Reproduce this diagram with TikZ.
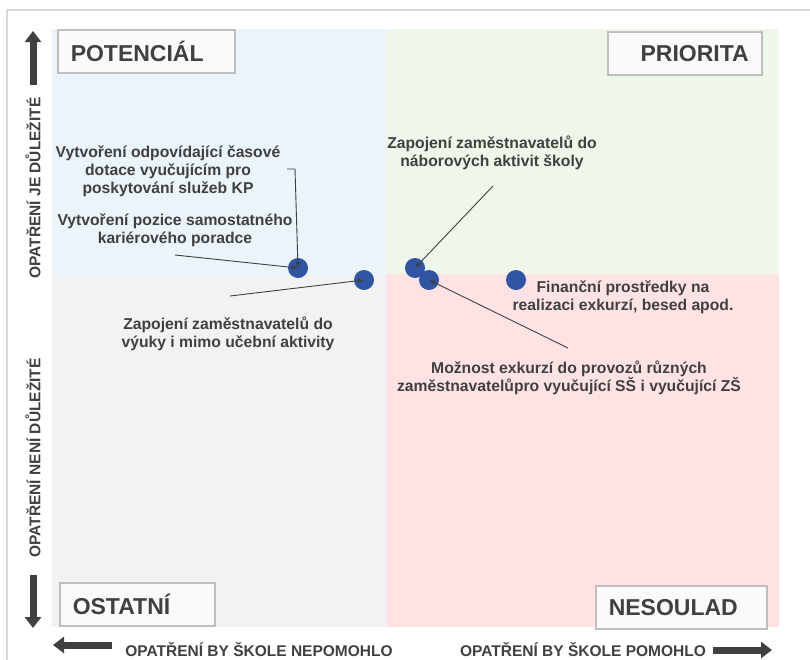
\documentclass[tikz,border=0pt]{standalone}
\usepackage{fontspec}
\setmainfont{Liberation Sans}
\usepackage{tikz}
\usetikzlibrary{arrows.meta,calc,backgrounds}
\usetikzlibrary{positioning}
\definecolor{inkgray}{HTML}{404040}
\definecolor{boxgray}{HTML}{BFBFBF}
\definecolor{dotblue}{HTML}{2F55A4}
\definecolor{quadblue}{HTML}{EBF3FB}
\definecolor{quadgreen}{HTML}{EFF6EA}
\definecolor{quadgray}{HTML}{F2F2F2}
\definecolor{quadpink}{HTML}{FFE3E4}
\tikzstyle{matrixpic}=[
  x=1pt,y=-1pt,font=\bfseries\fontsize{15.7}{18}\selectfont,text=inkgray
]
\tikzstyle{titlebox}=[
  draw=boxgray,line width=1.5pt,fill=white!98!black,inner xsep=13pt,
  minimum height=43pt,anchor=north west,font=\bfseries\fontsize{23}{26}\selectfont
]
\tikzstyle{item}=[
  circle,fill=dotblue,inner sep=0pt,minimum size=20pt
]
\tikzstyle{label}=[
  align=center,inner sep=0pt
]
\tikzstyle{axislabel}=[
  inner sep=0pt,font=\bfseries\fontsize{15.5}{17}\selectfont
]
\tikzstyle{bigarrow}=[
  draw=inkgray,line width=7pt,-{Triangle[width=16pt,length=11pt]}
]
\tikzstyle{lead}=[
  draw=inkgray,line width=0.9pt,-{Latex[length=6pt,width=5pt]}
]

\begin{document}
\begin{tikzpicture}[matrixpic]
  \useasboundingbox (0,0) rectangle (810,659);
  \fill[white] (0,0) rectangle (810,659);
  \draw[black!15,line width=1.2pt] (7,665) -- (7,10) -- (815,10);
  \fill[quadblue] (52,29) rectangle (386,274);
  \fill[quadgreen] (386,29) rectangle (779,274);
  \fill[quadgray] (52,274) rectangle (386,627);
  \fill[quadpink] (386,274) rectangle (779,627);

  \node (pot) at (57,29) [titlebox,text width=151pt,align=left] {POTENCIÁL};
  \node (pri) at (607,31) [titlebox,text width=128pt,align=right] {PRIORITA};
  \node (ost) at (59,582) [titlebox,text width=129pt,align=left] {OSTATNÍ};
  \node (nes) at (595,585) [titlebox,text width=145pt,align=left] {NESOULAD};

  \node (d1) at (298,268) [item] {};
  \node (d2) at (364,280) [item] {};
  \node (d3) at (415,268) [item] {};
  \node (d4) at (429,280) [item] {};
  \node (d5) at (516,280) [item] {};

  \node (l1) at (168,171) [label] {Vytvoření odpovídající časové\\dotace vyučujícím pro\\poskytování služeb KP};
  \node (l2) at (175,230) [label] {Vytvoření pozice samostatného\\kariérového poradce};
  \node (l3) at (228,334) [label] {Zapojení zaměstnavatelů do\\výuky i mimo učební aktivity};
  \node (l4) at (492,153) [label] {Zapojení zaměstnavatelů do\\náborových aktivit školy};
  \node (l5) at (623,297) [label] {Finanční prostředky na\\realizaci exkurzí, besed apod.};
  \node (l6) at (569,378) [label] {Možnost exkurzí do provozů různých\\zaměstnavatelůpro vyučující SŠ i vyučující ZŠ};

  \coordinate (k1) at (287,169);
  \coordinate (k2) at (175,255);
  \coordinate (k3) at (230,296);
  \coordinate (k4) at (493,186);
  \coordinate (k6) at (568,348);
  \draw[lead] (k1) -- ++(8,0) -- (d1.center);
  \draw[lead] (k2) -- (d1.center);
  \draw[lead] (k3) -- (d2.center);
  \draw[lead] (k4) -- (d3.center);
  \draw[lead] (k6) -- (d4.center);

  \node (yhi) at (33,188) [axislabel,rotate=90] {OPATŘENÍ JE DŮLEŽITÉ};
  \node (ylo) at (33,458) [axislabel,rotate=90] {OPATŘENÍ NENÍ DŮLEŽITÉ};
  \node (xlo) at (259,650) [axislabel] {OPATŘENÍ BY ŠKOLE NEPOMOHLO};
  \node (xhi) at (583,650) [axislabel] {OPATŘENÍ BY ŠKOLE POMOHLO};
  \coordinate (up0) at (33,85);
  \coordinate (up1) at (33,31);
  \coordinate (dn0) at (33,575);
  \coordinate (dn1) at (33,628);
  \coordinate (lf0) at (112,645);
  \coordinate (lf1) at (53,645);
  \coordinate (rt0) at (713,650);
  \coordinate (rt1) at (772,650);
  \draw[bigarrow] (up0) -- (up1);
  \draw[bigarrow] (dn0) -- (dn1);
  \draw[bigarrow] (lf0) -- (lf1);
  \draw[bigarrow] (rt0) -- (rt1);
\end{tikzpicture}
\end{document}
